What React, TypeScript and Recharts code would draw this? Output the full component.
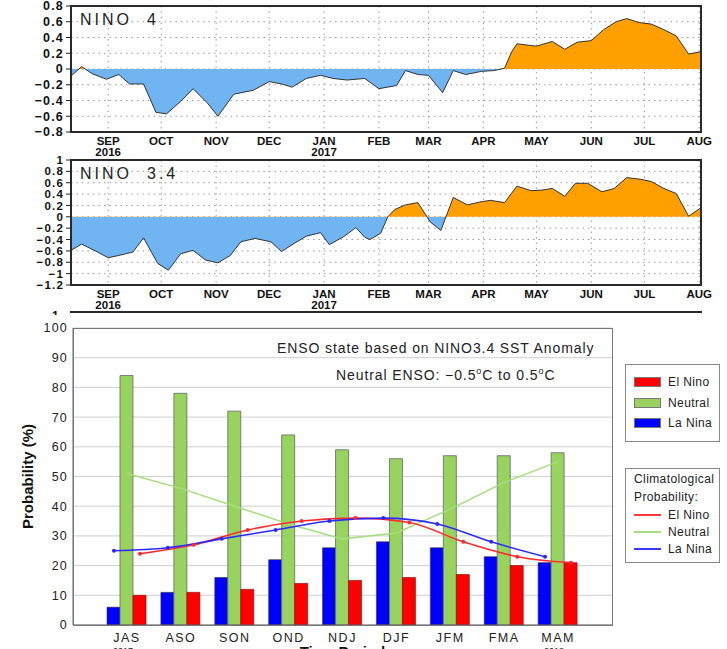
import React from "react";
import {
  AreaChart,
  Area,
  ComposedChart,
  Bar,
  Line,
  XAxis,
  YAxis,
  CartesianGrid,
} from "recharts";

const FONT = '"Liberation Sans", Arial, Helvetica, sans-serif';

// month starts, in days since 1 Aug 2016
const monthDays = [31, 61, 92, 122, 153, 184, 212, 243, 273, 304, 334, 365];
const monthNames = ["SEP", "OCT", "NOV", "DEC", "JAN", "FEB", "MAR", "APR", "MAY", "JUN", "JUL", "AUG"];
const monthYears: Record<number, string> = { 0: "2016", 4: "2017" };

// weekly Nino 4 anomaly (degC)
const nino4Days = [10, 16, 22, 30, 37, 43, 51, 58, 64, 72, 79, 87, 93, 102, 113, 122, 129, 135, 143, 151, 158, 166, 176, 184, 194, 199, 206, 212, 220, 226, 233, 242, 249, 255, 259, 262, 273, 282, 289, 296, 304, 311, 318, 324, 331, 338, 345, 352, 359, 366];
const nino4Values = [-0.09, 0.03, -0.06, -0.13, -0.07, -0.19, -0.19, -0.55, -0.57, -0.41, -0.25, -0.43, -0.6, -0.32, -0.27, -0.16, -0.19, -0.23, -0.12, -0.08, -0.12, -0.14, -0.12, -0.25, -0.21, -0.02, -0.07, -0.08, -0.3, -0.02, -0.07, -0.03, -0.02, 0.01, 0.22, 0.32, 0.29, 0.35, 0.25, 0.34, 0.36, 0.5, 0.6, 0.64, 0.59, 0.57, 0.5, 0.42, 0.19, 0.22];

// weekly Nino 3.4 anomaly (degC)
const nino34Days = [10, 16, 25, 31, 37, 45, 51, 59, 65, 72, 79, 86, 93, 100, 106, 114, 123, 129, 136, 143, 151, 156, 164, 171, 176, 179, 185, 189, 193, 199, 206, 213, 219, 226, 234, 241, 247, 255, 262, 270, 276, 282, 289, 295, 302, 310, 317, 324, 332, 338, 345, 352, 359, 366];
const nino34Values = [-0.59, -0.48, -0.62, -0.72, -0.68, -0.62, -0.37, -0.82, -0.94, -0.65, -0.59, -0.76, -0.81, -0.68, -0.44, -0.38, -0.44, -0.61, -0.47, -0.34, -0.28, -0.49, -0.35, -0.19, -0.36, -0.4, -0.29, 0, 0.13, 0.21, 0.25, -0.09, -0.24, 0.34, 0.21, 0.26, 0.29, 0.25, 0.54, 0.46, 0.47, 0.5, 0.36, 0.59, 0.59, 0.44, 0.5, 0.69, 0.66, 0.62, 0.5, 0.41, 0.01, 0.16];

const nino4Ticks = [-0.8, -0.6, -0.4, -0.2, 0, 0.2, 0.4, 0.6, 0.8];
const nino34Ticks = [-1.2, -1, -0.8, -0.6, -0.4, -0.2, 0, 0.2, 0.4, 0.6, 0.8, 1];

// ENSO probability forecast
const seasons = ["JAS", "ASO", "SON", "OND", "NDJ", "DJF", "JFM", "FMA", "MAM"];
const seasonYears: Record<number, string> = { 0: "2017", 8: "2018" };
const laNinaProb = [6, 11, 16, 22, 26, 28, 26, 23, 21];
const neutralProb = [84, 78, 72, 64, 59, 56, 57, 57, 58];
const elNinoProb = [10, 11, 12, 14, 15, 16, 17, 20, 21];
const elNinoClim = [24, 27, 32, 35, 36, 34.5, 28, 23, 21];
const neutralClim = [51, 46, 40, 34, 29, 31, 39, 48, 55];
const laNinaClim = [25, 26, 29, 32, 35, 36, 34, 28, 23];
const probTicks = [0, 10, 20, 30, 40, 50, 60, 70, 80, 90, 100];

const fmtAnom = (v: number) => {
  const s = Math.abs(v).toFixed(1).replace(/\.0$/, "");
  return v < -1e-9 ? "\u2212" + s : s;
};

const MonthTick = (props: any) => {
  const { x, y, payload } = props;
  const i = monthDays.indexOf(payload.value);
  return (
    <g>
      <text x={x} y={y + 13} textAnchor="middle" fontFamily={FONT} fontWeight="bold" fontSize={11.5} fill="#111">
        {monthNames[i]}
      </text>
      {monthYears[i] && (
        <text x={x} y={y + 24} textAnchor="middle" fontFamily={FONT} fontWeight="bold" fontSize={11.5} fill="#111">
          {monthYears[i]}
        </text>
      )}
    </g>
  );
};

const SeasonTick = (props: any) => {
  const { x, y, payload, index } = props;
  return (
    <g>
      <text x={x} y={y + 17} textAnchor="middle" fontFamily={FONT} fontSize={12.5} letterSpacing={1.5} fill="#222">
        {payload.value}
      </text>
      {seasonYears[index] && (
        <text x={x - 4} y={y + 29} textAnchor="middle" fontFamily={FONT} fontSize={9} fill="#222">
          {seasonYears[index]}
        </text>
      )}
    </g>
  );
};

interface NinoPanelProps {
  name: string;
  region: string;
  days: number[];
  values: number[];
  ticks: number[];
  gradId: string;
  top: number;
  height: number;
  plotTop: number;
  plotBottom: number;
}

function NinoPanel({ name, region, days, values, ticks, gradId, top, height, plotTop, plotBottom }: NinoPanelProps) {
  const data = days.map((d, i) => ({ day: d, v: values[i] }));
  const hi = Math.max(0, ...values);
  const lo = Math.min(0, ...values);
  const off = hi / (hi - lo);
  const labelStyle: React.CSSProperties = {
    position: "absolute",
    fontFamily: FONT,
    fontSize: 16,
    lineHeight: "16px",
    letterSpacing: 3,
    color: "#222",
    top: plotTop + 6,
  };
  return (
    <div style={{ position: "absolute", left: 0, top, width: 727, height }}>
      <AreaChart width={727} height={height} data={data} margin={{ top: plotTop, right: 26, left: 0, bottom: 0 }}>
        <defs>
          <linearGradient id={gradId} x1="0" y1="0" x2="0" y2="1">
            <stop offset={off} stopColor="#ffa000" />
            <stop offset={off} stopColor="#70b5f2" />
          </linearGradient>
        </defs>
        <CartesianGrid stroke="#9a9a9a" strokeDasharray="1.5 4" />
        <XAxis
          dataKey="day"
          type="number"
          domain={[10, 366]}
          ticks={monthDays}
          interval={0}
          height={height - plotBottom}
          tick={<MonthTick />}
          tickLine={false}
          tickSize={0}
          tickMargin={0}
          axisLine={false}
        />
        <YAxis
          type="number"
          domain={[ticks[0], ticks[ticks.length - 1]]}
          ticks={ticks}
          interval={0}
          width={71}
          tickFormatter={fmtAnom}
          tick={{ fontFamily: FONT, fontWeight: "bold", fontSize: ticks.length > 10 ? 11.5 : 12.5, fill: "#111", letterSpacing: 1.2 }}
          tickSize={5}
          tickMargin={2}
          tickLine={{ stroke: "#222" }}
          axisLine={false}
        />
        <Area
          type="linear"
          dataKey="v"
          baseValue={0}
          stroke="#333"
          strokeWidth={1}
          fill={`url(#${gradId})`}
          fillOpacity={1}
          dot={false}
          activeDot={false}
          isAnimationActive={false}
        />
      </AreaChart>
      <div
        style={{
          position: "absolute",
          left: 70,
          top: plotTop - 1,
          width: 632,
          height: plotBottom - plotTop + 2,
          border: "2px solid #2a2a2a",
          boxSizing: "border-box",
          pointerEvents: "none",
        }}
      />
      <div style={{ ...labelStyle, left: 80 }}>{name}</div>
      <div style={{ ...labelStyle, left: 147 }}>{region}</div>
    </div>
  );
}

const legendText: React.CSSProperties = {
  position: "absolute",
  left: 42,
  fontFamily: FONT,
  fontSize: 12,
  lineHeight: "14px",
  letterSpacing: 0.4,
  color: "#222",
  whiteSpace: "nowrap",
};

const barLegend = [
  { name: "El Nino", color: "#ff0000" },
  { name: "Neutral", color: "#99d35f" },
  { name: "La Nina", color: "#0000ff" },
];
const climLegend = [
  { name: "El Nino", color: "#ff3a3a" },
  { name: "Neutral", color: "#a6de7c" },
  { name: "La Nina", color: "#3a3aff" },
];

function ProbabilityChart() {
  const rows = seasons.map((s, i) => ({
    s,
    la: laNinaProb[i],
    neu: neutralProb[i],
    el: elNinoProb[i],
    laC: laNinaClim[i],
    neuC: neutralClim[i],
    elC: elNinoClim[i],
  }));
  return (
    <div style={{ position: "absolute", left: 0, top: 310, width: 727, height: 360 }}>
      <ComposedChart width={727} height={360} data={rows} margin={{ top: 18, right: 115, left: 0, bottom: 0 }} barGap={0} barSize={13}>
        <CartesianGrid vertical={false} stroke="#cfcfcf" />
        <XAxis
          dataKey="s"
          padding={{ left: 27, right: 27 }}
          height={45}
          interval={0}
          tick={<SeasonTick />}
          tickLine={false}
          tickSize={0}
          tickMargin={0}
          axisLine={{ stroke: "#666" }}
          label={{ value: "Time Period", position: "insideBottom", offset: 13, fontFamily: FONT, fontWeight: "bold", fontSize: 15, fill: "#111" }}
        />
        <XAxis xAxisId="la" dataKey="s" hide padding={{ left: 14, right: 40 }} />
        <XAxis xAxisId="el" dataKey="s" hide padding={{ left: 40, right: 14 }} />
        <YAxis
          type="number"
          domain={[0, 100]}
          ticks={probTicks}
          interval={0}
          width={73}
          tick={{ fontFamily: FONT, fontSize: 12.5, fill: "#222", letterSpacing: 1.2 }}
          tickLine={false}
          tickSize={0}
          tickMargin={5}
          axisLine={{ stroke: "#666" }}
          label={{
            value: "Probability (%)",
            angle: -90,
            position: "insideLeft",
            offset: 28,
            textAnchor: "middle",
            fontFamily: FONT,
            fontWeight: "bold",
            fontSize: 15,
            fill: "#111",
          }}
        />
        <Bar dataKey="la" fill="#0000ff" stroke="#333" strokeWidth={0.6} barSize={13} isAnimationActive={false} />
        <Bar dataKey="neu" fill="#99d35f" stroke="#666" strokeWidth={0.8} barSize={13} isAnimationActive={false} />
        <Bar dataKey="el" fill="#ff0000" stroke="#800" strokeWidth={0.6} barSize={13} isAnimationActive={false} />
        <Line dataKey="neuC" type="linear" stroke="#a6de7c" strokeWidth={1.5} dot={false} activeDot={false} isAnimationActive={false} />
        <Line
          xAxisId="el"
          dataKey="elC"
          type="monotone"
          stroke="#ff2a2a"
          strokeWidth={1.6}
          dot={{ r: 2, fill: "#ff2a2a", stroke: "none" }}
          activeDot={false}
          isAnimationActive={false}
        />
        <Line
          xAxisId="la"
          dataKey="laC"
          type="monotone"
          stroke="#2a2aff"
          strokeWidth={1.6}
          dot={{ r: 2, fill: "#2a2aff", stroke: "none" }}
          activeDot={false}
          isAnimationActive={false}
        />
      </ComposedChart>
      {/* plot frame */}
      <div
        style={{
          position: "absolute",
          left: 73,
          top: 18,
          width: 540,
          height: 298,
          border: "1px solid #777",
          boxSizing: "border-box",
          pointerEvents: "none",
        }}
      />
      <div style={{ position: "absolute", left: 277, top: 30, fontFamily: FONT, fontSize: 14, lineHeight: "16px", letterSpacing: 0.9, color: "#222", whiteSpace: "nowrap" }}>
        ENSO state based on NINO3.4 SST Anomaly
      </div>
      <div style={{ position: "absolute", left: 336, top: 53, fontFamily: FONT, fontSize: 14, lineHeight: "16px", letterSpacing: 0.9, color: "#222", whiteSpace: "nowrap" }}>
        Neutral ENSO: {"\u2212"}0.5<sup style={{ fontSize: 9 }}>o</sup>C to 0.5<sup style={{ fontSize: 9 }}>o</sup>C
      </div>
      {/* bar legend */}
      <div style={{ position: "absolute", left: 625, top: 54, width: 95, height: 78, border: "1px solid #888", boxSizing: "border-box", background: "#fff" }}>
        {barLegend.map((e, i) => (
          <React.Fragment key={e.name}>
            <div style={{ position: "absolute", left: 8, top: 12 + i * 20.5, width: 27, height: 10, background: e.color, border: "1px solid #777", boxSizing: "border-box" }} />
            <div style={{ ...legendText, top: 10 + i * 20.5 }}>{e.name}</div>
          </React.Fragment>
        ))}
      </div>
      {/* climatology legend */}
      <div style={{ position: "absolute", left: 625, top: 158, width: 95, height: 95, border: "1px solid #888", boxSizing: "border-box", background: "#fff" }}>
        <div style={{ ...legendText, left: 8, top: 3 }}>Climatological</div>
        <div style={{ ...legendText, left: 8, top: 21 }}>Probability:</div>
        {climLegend.map((e, i) => (
          <React.Fragment key={e.name}>
            <div style={{ position: "absolute", left: 8, top: 45 + i * 17, width: 27, height: 2, background: e.color }} />
            <div style={{ ...legendText, top: 39 + i * 17 }}>{e.name}</div>
          </React.Fragment>
        ))}
      </div>
    </div>
  );
}

export default function App() {
  return (
    <div style={{ position: "absolute", left: 0, top: 0, width: 727, height: 649, overflow: "hidden", background: "#fff" }}>
      <NinoPanel
        name="NINO"
        region="4"
        days={nino4Days}
        values={nino4Values}
        ticks={nino4Ticks}
        gradId="g4"
        top={0}
        height={160}
        plotTop={6}
        plotBottom={132}
      />
      <NinoPanel
        name="NINO"
        region="3.4"
        days={nino34Days}
        values={nino34Values}
        ticks={nino34Ticks}
        gradId="g34"
        top={150}
        height={165}
        plotTop={10}
        plotBottom={135}
      />
      {/* top edge of the next (cut off) panel */}
      <div style={{ position: "absolute", left: 70, top: 311, width: 632, height: 2, background: "#2a2a2a" }} />
      <div style={{ position: "absolute", left: 52, top: 309, width: 12, height: 6, overflow: "hidden", fontFamily: FONT, fontWeight: "bold", fontSize: 12, lineHeight: "14px", color: "#111" }}>
        1
      </div>
      <ProbabilityChart />
    </div>
  );
}
